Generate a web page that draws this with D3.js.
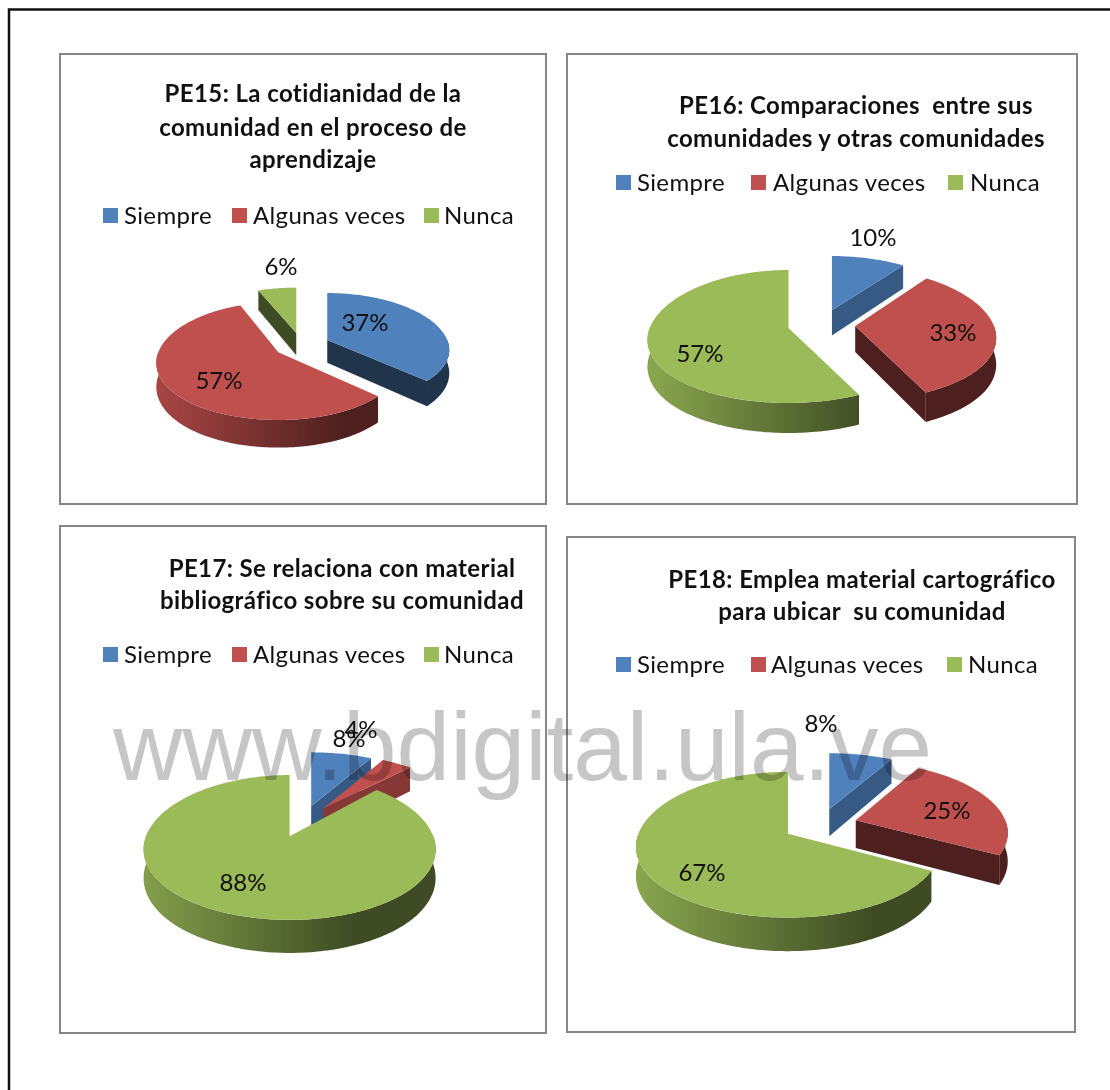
<!DOCTYPE html>
<html><head><meta charset="utf-8">
<style>html,body{margin:0;padding:0;background:#fff}svg{display:block}text{font-variant-ligatures:none}</style>
<script src="https://cdn.jsdelivr.net/npm/d3@7/dist/d3.min.js"></script>
</head><body><svg id="c" width="1110" height="1090"></svg>
<script>
const categories = ["Siempre", "Algunas veces", "Nunca"];
const colors = ["#4f81bd", "#c0504d", "#9bbb59"];
const pe15Values = [37, 57, 6];
const pe16Values = [10, 33, 57];
const pe17Values = [8, 4, 88];
const pe18Values = [8, 25, 67];
const pe15Title = ["PE15: La cotidianidad de la", "comunidad en el proceso de", "aprendizaje"];
const pe16Title = ["PE16: Comparaciones  entre sus", "comunidades y otras comunidades"];
const pe17Title = ["PE17: Se relaciona con material", "bibliográfico sobre su comunidad"];
const pe18Title = ["PE18: Emplea material cartográfico", "para ubicar  su comunidad"];
const watermark = "www.bdigital.ula.ve";

const panels = [
 {id:"a",values:pe15Values,title:pe15Title,box:[60,54,486,450],titleX:313,titleY:[102,136,168],
  legendY:216,swatchX:[103,232,424],textX:[124,253,444],
  cx:301.5,cy:345,rx:122,ry:55.3,k:.148,e:.23,d:23,labels:[[365,323],[219,381],[281,267]]},
 {id:"b",values:pe16Values,title:pe16Title,box:[567,54,510,450],titleX:856,titleY:[114,147],
  legendY:183,swatchX:[616,751,948],textX:[637,773,970],
  cx:821.5,cy:324.5,rx:141,ry:64.5,k:.128,e:.24,d:26,labels:[[873,238],[953,333],[700,354]]},
 {id:"c",values:pe17Values,title:pe17Title,box:[60,526,486,507],titleX:342,titleY:[577,609],
  legendY:655,swatchX:[103,232,424],textX:[124,253,444],
  cx:302.5,cy:821,rx:146,ry:66,k:.15,e:.24,d:27,labels:[[349,739],[361,730],[243,883]]},
 {id:"d",values:pe18Values,title:pe18Title,box:[567,537,508,495],titleX:862,titleY:[588,620],
  legendY:665,swatchX:[616,751,947],textX:[637,771,968],
  cx:820,cy:825,rx:152,ry:68.6,k:.148,e:.245,d:28,labels:[[821,724],[947,811],[702,873]]}
];
const kx = 0.18;
const rxFit = Math.sqrt(1 - kx*kx);

const svg = d3.select("#c");
const defs = svg.append("defs");
const FONT = "Lato, 'Open Sans', sans-serif";
const shade = (c, f) => { const r = d3.rgb(c); return d3.rgb(r.r*f, r.g*f, r.b*f).formatHex(); };

svg.append("rect").attr("width",1110).attr("height",1090).attr("fill","#fff");
svg.append("path").attr("d","M9,1090V9.5H1110").attr("fill","none").attr("stroke","#111").attr("stroke-width",2.5);

const pieGen = d3.pie().sort(null).value(v => v).startAngle(0).endAngle(2*Math.PI);
const lineGen = d3.line();

panels.forEach(p => {
  const g = svg.append("g");
  g.append("rect").attr("x",p.box[0]).attr("y",p.box[1]).attr("width",p.box[2]).attr("height",p.box[3])
    .attr("fill","#fff").attr("stroke","#868686").attr("stroke-width",2);

  g.selectAll("text.t").data(p.title).join("text").attr("class","t")
    .attr("x",p.titleX).attr("y",(d,i)=>p.titleY[i]).attr("text-anchor","middle")
    .attr("font-family",FONT).attr("font-weight",700).attr("font-size",24).attr("letter-spacing",.4).attr("fill","#111")
    .attr("xml:space","preserve").style("white-space","pre").text(d=>d);

  categories.forEach((c,i)=>{
    g.append("rect").attr("x",p.swatchX[i]).attr("y",p.legendY-8).attr("width",15).attr("height",15).attr("fill",colors[i]);
    g.append("text").attr("x",p.textX[i]).attr("y",p.legendY+8).attr("font-family",FONT).attr("font-size",24).attr("letter-spacing",.35)
      .attr("fill","#111").text(c);
  });

  // perspective projection: a slice's centre (explosion offset) plus a warped radial direction
  const proj = (ou,ov,t,down) => {
    const su = t===null?0:Math.sin(t), sv = t===null?0:-Math.cos(t);
    const v = ov+sv, w = 1-p.k*v;
    return [p.cx+p.rx*ou+p.rx*rxFit*su/(1-kx*sv), p.cy+p.ry*v/w+(down?p.d/w:0)];
  };

  colors.forEach((c,i)=>{
    const gr = defs.append("linearGradient").attr("id",`w${p.id}${i}`).attr("gradientUnits","userSpaceOnUse")
      .attr("x1",p.cx-1.2*p.rx).attr("x2",p.cx+.35*p.rx).attr("y1",0).attr("y2",0);
    gr.append("stop").attr("offset",0).attr("stop-color",shade(c,.88));
    gr.append("stop").attr("offset",1).attr("stop-color",shade(c,.4));
  });

  const arcs = pieGen(p.values).map((a,i)=>{
    const mid=(a.startAngle+a.endAngle)/2;
    return {...a,i,mid,ou:p.e*Math.sin(mid),ov:-p.e*Math.cos(mid)};
  }).sort((x,y)=>x.ov-y.ov);

  arcs.forEach(a=>{
    const pt=(t,down)=>proj(a.ou,a.ov,t,down);
    const apex=down=>proj(a.ou,a.ov,null,down);
    const n=Math.max(2,Math.ceil((a.endAngle-a.startAngle)/0.02));
    const ts=d3.range(n+1).map(j=>a.startAngle+(a.endAngle-a.startAngle)*j/n);
    // radial walls
    [[a.startAngle,a.startAngle-Math.PI/2],[a.endAngle,a.endAngle+Math.PI/2]].forEach(([t,nrm])=>{
      if(-Math.cos(nrm)<=1e-3) return;
      const s=Math.sin(nrm)>0?.7:.4;
      g.append("path").attr("d",lineGen([apex(false),pt(t,false),pt(t,true),apex(true)])+"Z")
       .attr("fill",shade(colors[a.i],s));
    });
    // outer wall, front-facing part only
    const lo=Math.max(a.startAngle,Math.PI/2), hi=Math.min(a.endAngle,1.5*Math.PI);
    if(hi>lo){
      const m=Math.ceil((hi-lo)/0.02);
      const os=d3.range(m+1).map(j=>lo+(hi-lo)*j/m);
      g.append("path").attr("d",lineGen([...os.map(t=>pt(t,false)),...os.slice().reverse().map(t=>pt(t,true))])+"Z")
       .attr("fill",`url(#w${p.id}${a.i})`);
    }
    // top face
    g.append("path").attr("d",lineGen([apex(false),...ts.map(t=>pt(t,false))])+"Z").attr("fill",colors[a.i]);
  });

  g.selectAll("text.l").data(p.values).join("text").attr("class","l")
    .attr("x",(d,i)=>p.labels[i][0]).attr("y",(d,i)=>p.labels[i][1]+8).attr("text-anchor","middle")
    .attr("font-family",FONT).attr("font-size",24).attr("fill","#111").text(d=>d+"%");
});

svg.append("text").attr("x",113).attr("y",780).attr("font-family","'Liberation Sans',Arial,sans-serif")
  .attr("font-size",96.3).attr("fill","#c6c6c6").style("mix-blend-mode","multiply").text(watermark);
</script></body></html>
